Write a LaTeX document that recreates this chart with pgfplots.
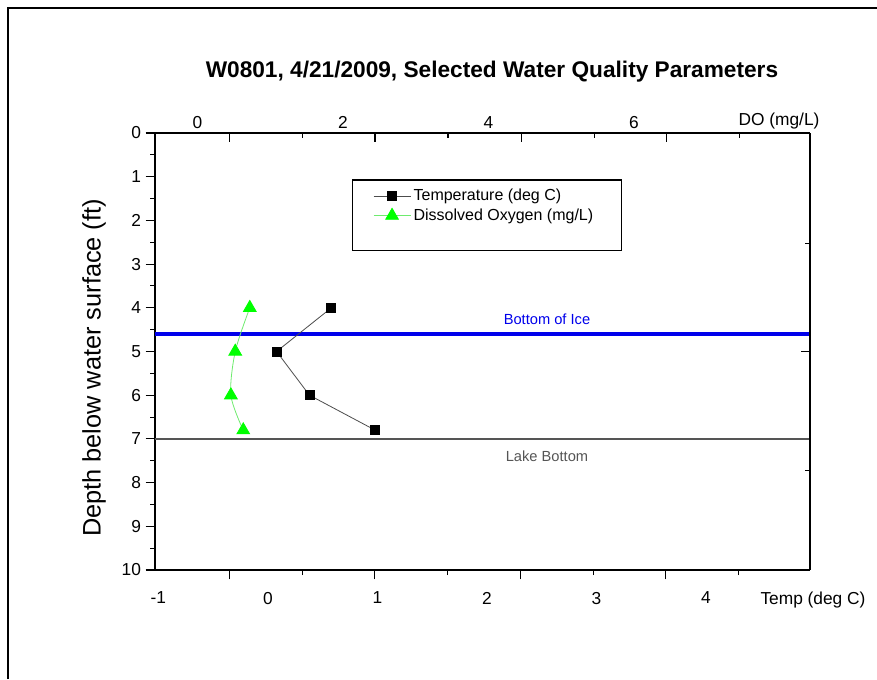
\documentclass[border=0pt]{standalone}
\usepackage{fontspec}
\setmainfont{Liberation Sans}
\usepackage{pgfplots}
\pgfplotsset{compat=1.18}
\definecolor{iceblue}{RGB}{0,0,235}
\definecolor{bottomgray}{RGB}{85,85,85}
\definecolor{dogreen}{RGB}{0,255,0}
\definecolor{dolinegreen}{RGB}{110,235,110}
\begin{document}
\begin{tikzpicture}[x=0.75pt,y=0.75pt]
\path[use as bounding box] (0,0) rectangle (877,679);
\draw[line width=1.5pt] (8,0) -- (8,671) -- (877,671);
\node[font=\fontsize{17}{20}\selectfont\bfseries] at (492,607) {W0801, 4/21/2009, Selected Water Quality Parameters};
\node[rotate=90, font=\fontsize{19}{22}\selectfont] at (94,311) {Depth below water surface (ft)};
\begin{axis}[
  at={(116.25pt,81.75pt)}, anchor=south west, scale only axis,
  width=491.25pt, height=327.75pt,
  xmin=-1.03, xmax=4.95, ymin=0, ymax=10, y dir=reverse,
  axis x line*=bottom, axis y line*=left,
  axis line style={line width=1.1pt},
  tick align=outside,
  major tick length=7pt, minor tick length=3.75pt,
  every tick/.style={black, line width=0.8pt},
  xtick={-0.352,0.977,2.309,3.632}, xticklabels={},
  minor xtick={0.314,1.643,2.976,4.299},
  extra x ticks={-1,0,1,2,3,4},
  extra x tick style={major tick length=0pt, xticklabel style={yshift=-13pt}},
  ytick={0,1,...,10}, minor ytick={0.5,1.5,...,9.5},
  /pgf/number format/assume math mode=true,
  tick label style={font=\fontsize{13}{15}\selectfont},
  clip=false,
  legend style={at={(axis cs:0.959,1.22)}, anchor=north west, draw=none, fill=none,
    font=\fontsize{12}{14}\selectfont, row sep=0.5pt, inner sep=0pt},
  legend cell align=left,
  legend image code/.code={\draw[mark repeat=2,mark phase=2,#1] plot coordinates {(0pt,0pt) (13.9pt,0pt) (27.75pt,0pt)};},
]
\addplot[iceblue, line width=2.5pt, forget plot] coordinates {(-1.03,4.6) (4.95,4.6)};
\addplot[bottomgray, line width=1.9pt, forget plot] coordinates {(-1.03,7.0) (4.95,7.0)};
\addplot[black!70, line width=0.6pt, mark=square*, mark size=3.4pt, mark options={black, solid}]
  coordinates {(0.58,4) (0.08,5) (0.38,6) (0.98,6.8)};
\addlegendentry{Temperature (deg C)}
\addlegendimage{dolinegreen, line width=0.6pt, mark=triangle*, mark size=5.5pt, mark options={dogreen, draw=dogreen, solid}}
\addlegendentry{Dissolved Oxygen (mg/L)}
\draw[line width=0.8pt] (axis cs:0.774,1.075) rectangle (axis cs:3.228,2.693);
\end{axis}
\begin{axis}[
  at={(116.25pt,81.75pt)}, anchor=south west, scale only axis,
  width=491.25pt, height=327.75pt,
  xmin=-0.583, xmax=8.42, ymin=0, ymax=10, y dir=reverse,
  axis x line*=top, axis y line*=right,
  axis line style={line width=1.1pt},
  tick align=inside,
  major tick length=7pt, minor tick length=3.75pt,
  every tick/.style={black, line width=0.8pt},
  xtick={0.438,2.441,4.448,6.442}, xticklabels={},
  minor xtick={1.442,3.444,5.452,7.446},
  extra x ticks={0,2,4,6},
  extra x tick style={major tick length=0pt, xticklabel style={yshift=0pt}},
  ytick={5.01}, yticklabels={}, minor ytick={2.52,7.73},
  /pgf/number format/assume math mode=true,
  tick label style={font=\fontsize{13}{15}\selectfont},
]
\addplot[dolinegreen, line width=0.6pt, smooth, mark=triangle*, mark size=5.5pt, mark options={dogreen, draw=dogreen, solid}]
  coordinates {(0.72,4) (0.52,5) (0.46,6) (0.63,6.8)};
\end{axis}
\node[font=\fontsize{13}{15}\selectfont] at (779,558) {DO (mg/L)};
\node[font=\fontsize{13}{15}\selectfont] at (813,79) {Temp (deg C)};
\node[font=\fontsize{11}{13}\selectfont, text=iceblue] at (547,360) {Bottom of Ice};
\node[font=\fontsize{11}{13}\selectfont, text=bottomgray] at (547,223) {Lake Bottom};
\end{tikzpicture}
\end{document}
